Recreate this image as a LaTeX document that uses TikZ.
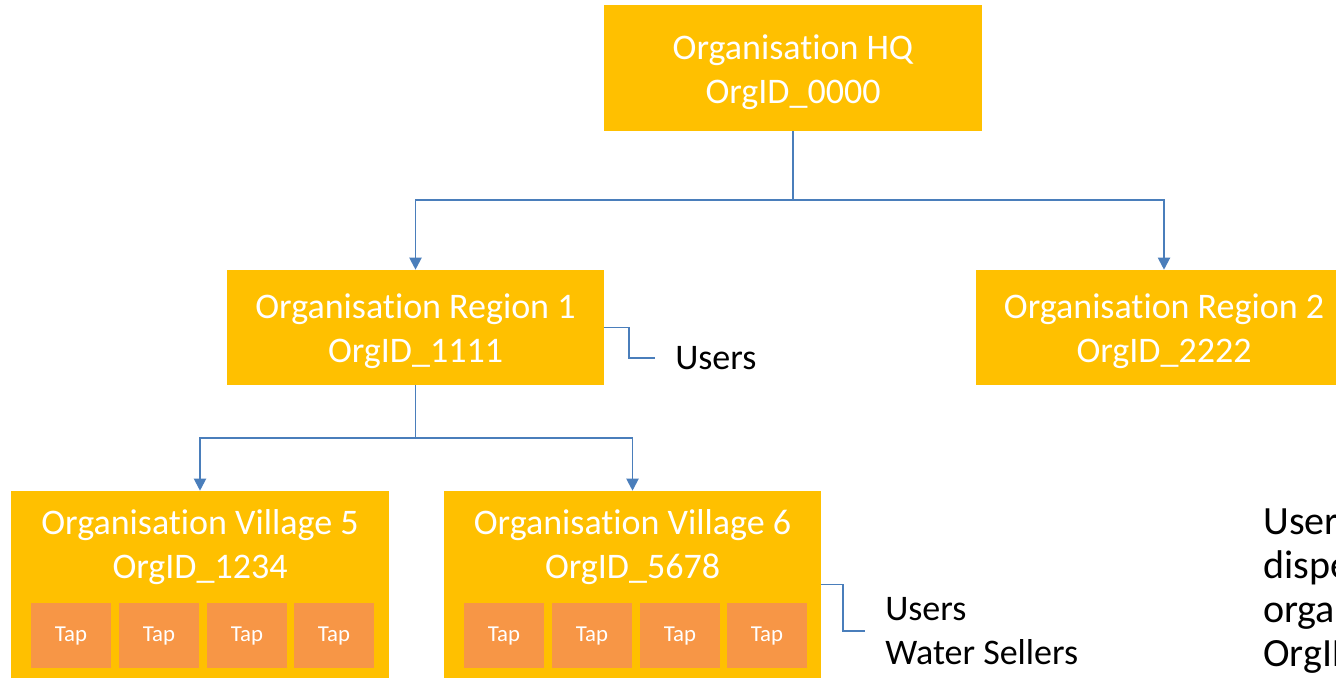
\documentclass[tikz,border=0pt]{standalone}
\usepackage{fontspec}
\setmainfont{Carlito}[Ligatures=NoCommon]
\usepackage{xcolor}
\usetikzlibrary{arrows.meta, positioning, calc}

\definecolor{orggold}{HTML}{FFC000}
\definecolor{taporange}{HTML}{F79646}
\definecolor{linkblue}{HTML}{4A7EBB}

% invisible strut, pushes the box text a little lower
\newcommand{\topstrut}{\rule{0pt}{23pt}}

\begin{document}
\begin{tikzpicture}[
    % Box styling
    orgbox/.style={rectangle, fill=orggold, text=white, align=center, inner sep=0pt,
        font=\fontsize{25.6}{31.3}\selectfont},
    boxtext/.style={text=white, align=center, inner sep=0pt, font=\fontsize{25.6}{31.3}\selectfont},
    tapbox/.style={rectangle, fill=taporange, text=white, minimum width=2cm, minimum height=1.625cm,
        inner sep=0pt, font=\fontsize{16.2}{19.5}\selectfont},
    note/.style={anchor=west, align=left, inner xsep=0.5cm, inner ysep=0pt,
        font=\fontsize{25.6}{31.3}\selectfont},
    % Connector styling
    arrow/.style={-{Triangle[width=0.3cm,length=0.3cm]}, draw=linkblue, line width=1.4pt},
    bracket/.style={draw=linkblue, line width=1.4pt}
]

% frame of the picture (the right edge cuts into the boxes)
\path[use as bounding box, clip] (0,0) rectangle (33.4,-16.95);

% ---------------------------------------------------
% 1. NODES
% ---------------------------------------------------

% Head office
\node[orgbox, minimum width=9.45cm, minimum height=3.15cm] (hq) at (19.825,-1.7) {\topstrut Organisation HQ\\OrgID\_0000};

% Regions
\node[orgbox, minimum width=9.425cm, minimum height=2.875cm] (reg1) at (10.3875,-8.1875) {\topstrut Organisation Region 1\\OrgID\_1111};
\node[orgbox, minimum width=9.4cm, minimum height=2.875cm] (reg2) at (29.1,-8.1875) {\topstrut Organisation Region 2\\OrgID\_2222};

% Villages (box first, title on top)
\node[orgbox, minimum width=9.45cm, minimum height=4.675cm] (vil5) at (5.0,-14.6125) {};
\node[orgbox, minimum width=9.425cm, minimum height=4.675cm] (vil6) at (15.8125,-14.6125) {};
\node[boxtext] (vil5title) at (5.0,-13.68) {Organisation Village 5\\OrgID\_1234};
\node[boxtext] (vil6title) at (15.8125,-13.68) {Organisation Village 6\\OrgID\_5678};

% Taps of village 5
\node[tapbox] (vil5tap1) at (1.775,-15.89) {Tap};
\node[tapbox] (vil5tap2) at (3.975,-15.89) {Tap};
\node[tapbox] (vil5tap3) at (6.175,-15.89) {Tap};
\node[tapbox] (vil5tap4) at (8.35,-15.89) {Tap};

% Taps of village 6
\node[tapbox] (vil6tap1) at (12.6,-15.89) {Tap};
\node[tapbox] (vil6tap2) at (14.8,-15.89) {Tap};
\node[tapbox] (vil6tap3) at (17.0,-15.89) {Tap};
\node[tapbox] (vil6tap4) at (19.175,-15.89) {Tap};

% Side notes
\node[note] (reg1users) at (16.375,-8.95) {Users};
\node[note] (vil6users) at (21.625,-15.775) {Users\\Water Sellers};
\node[anchor=north west, align=left, inner sep=0pt, font=\fontsize{28.5}{31.3}\selectfont]
    (sidetext) at (31.575,-12.72) {Users\\dispensers\\organisation\\OrgID};

% ---------------------------------------------------
% 2. CONNECTIONS
% ---------------------------------------------------
\coordinate (hqsplit) at (19.825,-5.0);
\coordinate (reg1split) at (10.3875,-10.95);

% HQ -> Regions
\draw[arrow] (hq.south) -- (hqsplit) -| (reg1.north);
\draw[arrow] (hq.south) -- (hqsplit) -| (reg2.north);

% Region 1 -> Villages
\draw[arrow] (reg1.south) -- (reg1split) -| (vil5.north);
\draw[arrow] (reg1.south) -- (reg1split) -| (vil6.north);

% Brackets to the notes
\draw[bracket] (reg1.east) -- ++(0.625,0) |- (reg1users.west);
\draw[bracket] (vil6.east) -- ++(0.55,0) |- (vil6users.west);

\end{tikzpicture}
\end{document}
